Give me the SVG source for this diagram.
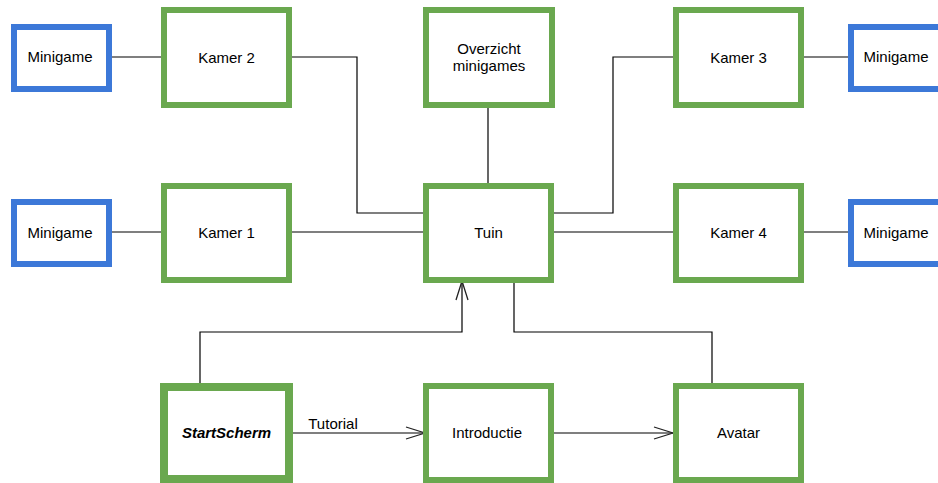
<svg xmlns="http://www.w3.org/2000/svg" width="938" height="483" viewBox="0 0 938 483">
<style>
.g rect{fill:#fff;stroke:#6aa84f;stroke-width:6}
.b rect{fill:#fff;stroke:#3c78d8;stroke-width:6}
text{font-family:"Liberation Sans",Arial,sans-serif;font-size:15px;fill:#000;text-anchor:middle}
.c path{fill:none;stroke:#000;stroke-width:1.2}
</style>
<defs>
<marker id="open" markerWidth="22" markerHeight="14" refX="20" refY="7" orient="auto" markerUnits="userSpaceOnUse">
<path d="M1,1 L20,7 L1,13" fill="none" stroke="#222" stroke-width="1.3"/>
</marker>
</defs>
<rect width="938" height="483" fill="#fff"/>
<g class="c" id="connectors">
<path d="M112,57 H161"/>
<path d="M292,57 H357 V213 H426"/>
<path d="M488,108 V183"/>
<path d="M551,213 H613 V57 H673"/>
<path d="M804,57 H848"/>
<path d="M112,232 H161"/>
<path d="M292,232 H426"/>
<path d="M551,232 H673"/>
<path d="M804,232 H848"/>
<path d="M200,384 V332 H462 V281" marker-end="url(#open)"/>
<path d="M514,280 V332 H712 V383"/>
<path d="M288,433 H425" marker-end="url(#open)"/>
<path d="M551,433 H673" marker-end="url(#open)"/>
</g>
<text x="333" y="429">Tutorial</text>
<g id="minigame1" class="b"><rect x="14" y="27" width="95" height="62"/><text x="60" y="62">Minigame</text></g>
<g id="kamer2" class="g"><rect x="164" y="10" width="125" height="95"/><text x="226.5" y="63">Kamer 2</text></g>
<g id="overzicht" class="g"><rect x="426" y="10" width="126" height="95"/><text x="489" y="54">Overzicht</text><text x="489" y="71">minigames</text></g>
<g id="kamer3" class="g"><rect x="676" y="10" width="125" height="95"/><text x="738.5" y="63">Kamer 3</text></g>
<g id="minigame2" class="b"><rect x="851" y="27" width="95" height="62"/><text x="896" y="62">Minigame</text></g>
<g id="minigame3" class="b"><rect x="14" y="202" width="95" height="62"/><text x="60" y="238">Minigame</text></g>
<g id="kamer1" class="g"><rect x="164" y="186" width="125" height="94"/><text x="226.5" y="238">Kamer 1</text></g>
<g id="tuin" class="g"><rect x="426" y="186" width="125" height="94"/><text x="488.5" y="238">Tuin</text></g>
<g id="kamer4" class="g"><rect x="676" y="186" width="125" height="94"/><text x="738.5" y="238">Kamer 4</text></g>
<g id="minigame4" class="b"><rect x="851" y="202" width="95" height="62"/><text x="896" y="238">Minigame</text></g>
<g id="startscherm" class="g"><rect x="164" y="387" width="125" height="92" style="stroke-width:8"/><text x="226.5" y="438" style="font-weight:bold;font-style:italic">StartScherm</text></g>
<g id="introductie" class="g"><rect x="426" y="386" width="125" height="94"/><text x="487" y="438">Introductie</text></g>
<g id="avatar" class="g"><rect x="676" y="386" width="125" height="94"/><text x="738.5" y="438">Avatar</text></g>
</svg>
